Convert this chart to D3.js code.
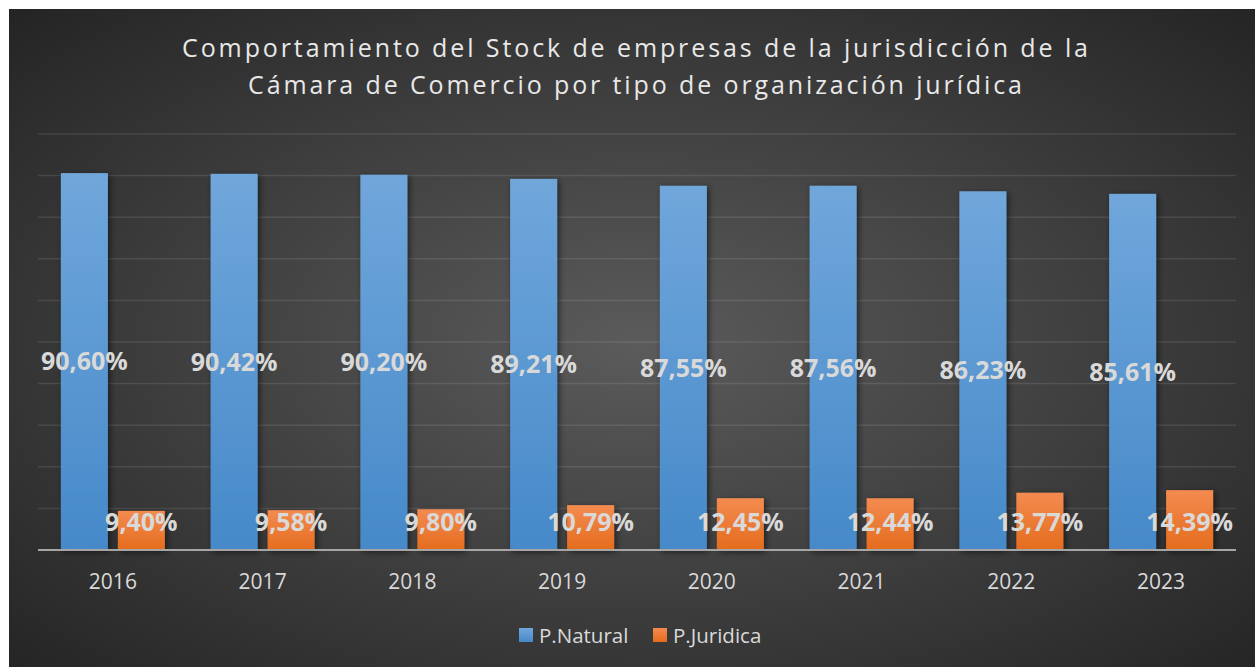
<!DOCTYPE html>
<html>
<head>
<meta charset="utf-8">
<script src="https://d3js.org/d3.v7.min.js"></script>
<style>
body { margin: 0; background: #fff; overflow: hidden; }
svg { display: block; }
text { font-family: "Open Sans", sans-serif; }
</style>
</head>
<body>
<svg id="chart" width="1255" height="667"></svg>
<script>
// data
var years = ["2016", "2017", "2018", "2019", "2020", "2021", "2022", "2023"]
var natural = [0.9060, 0.9042, 0.9020, 0.8921, 0.8755, 0.8756, 0.8623, 0.8561]
var juridica = [0.0940, 0.0958, 0.0980, 0.1079, 0.1245, 0.1244, 0.1377, 0.1439]
var seriesNames = ["P.Natural", "P.Juridica"]
var titleLines = ["Comportamiento del Stock de empresas de la jurisdicción de la",
                  "Cámara de Comercio por tipo de organización jurídica"]

var svg = d3.select("#chart")
var defs = svg.append("defs")

// background gradient
var bg = defs.append("radialGradient").attr("id", "bg")
    .attr("cx", "0.5").attr("cy", "0.5").attr("r", "0.72")
bg.append("stop").attr("offset", "0%").attr("stop-color", "#5b5b5b")
bg.append("stop").attr("offset", "100%").attr("stop-color", "#232323")

var gBlue = defs.append("linearGradient").attr("id", "gBlue")
    .attr("x1", 0).attr("y1", 0).attr("x2", 0).attr("y2", 1)
gBlue.append("stop").attr("offset", "0%").attr("stop-color", "#70a7db")
gBlue.append("stop").attr("offset", "100%").attr("stop-color", "#4689c9")

var gOrange = defs.append("linearGradient").attr("id", "gOrange")
    .attr("x1", 0).attr("y1", 0).attr("x2", 0).attr("y2", 1)
gOrange.append("stop").attr("offset", "0%").attr("stop-color", "#f38b50")
gOrange.append("stop").attr("offset", "100%").attr("stop-color", "#e56c1d")

var shadow = defs.append("filter").attr("id", "shadow")
    .attr("x", "-30%").attr("y", "-30%").attr("width", "160%").attr("height", "160%")
shadow.append("feDropShadow").attr("dx", 2).attr("dy", 2).attr("stdDeviation", 3)
    .attr("flood-color", "#000").attr("flood-opacity", 0.55)

svg.append("rect").attr("x", 9).attr("y", 9).attr("width", 1260).attr("height", 670)
    .attr("fill", "url(#bg)")

// title
svg.selectAll(".title").data(titleLines).enter().append("text")
    .attr("class", "title")
    .attr("x", 635)
    .attr("y", function(d, i) { return 57 + i * 37 })
    .attr("text-anchor", "middle")
    .attr("font-size", 25)
    .attr("fill", "#e8e8e8")
    .attr("textLength", function(d, i) { return i == 0 ? 906 : 774 })
    .attr("lengthAdjust", "spacing")
    .text(function(d) { return d })

// scales
var y = d3.scaleLinear().domain([0, 1]).range([550, 134])
var x0 = d3.scaleBand().domain(years).range([38, 1236])
    .paddingInner(0.3055).paddingOuter(0.1528)
var x1 = d3.scaleBand().domain(seriesNames).range([0, x0.bandwidth()])
    .paddingInner(0.175).paddingOuter(0)

// gridlines
svg.append("g").selectAll("line").data(d3.range(0.1, 1.01, 0.1)).enter().append("line")
    .attr("x1", 38).attr("x2", 1236)
    .attr("y1", function(d) { return y(d) }).attr("y2", function(d) { return y(d) })
    .attr("stroke", "#ffffff").attr("stroke-opacity", 0.1).attr("stroke-width", 1.5)

var rows = years.map(function(yr, i) {
    return { year: yr, vals: [natural[i], juridica[i]] }
})

var groups = svg.append("g").selectAll("g").data(rows).enter().append("g")
    .attr("transform", function(d) { return "translate(" + x0(d.year) + ",0)" })

groups.selectAll("rect").data(function(d) { return d.vals }).enter().append("rect")
    .attr("x", function(d, i) { return x1(seriesNames[i]) })
    .attr("y", function(d) { return y(d) })
    .attr("width", x1.bandwidth())
    .attr("height", function(d) { return y(0) - y(d) })
    .attr("fill", function(d, i) { return i == 0 ? "url(#gBlue)" : "url(#gOrange)" })
    .attr("filter", "url(#shadow)")

// baseline
svg.append("line").attr("x1", 38).attr("x2", 1236).attr("y1", y(0)).attr("y2", y(0))
    .attr("stroke", "#a6a6a6").attr("stroke-width", 2)

var fmt = function(v) { return (v * 100).toFixed(2).replace(".", ",") + "%" }

// value labels
groups.selectAll(".lbl").data(function(d) { return d.vals }).enter().append("text")
    .attr("class", "lbl")
    .attr("x", function(d, i) { return x1(seriesNames[i]) + x1.bandwidth() / 2 })
    .attr("y", function(d, i) { return i == 0 ? (y(d) + y(0)) / 2 : y(0) - 28 })
    .attr("dy", "0.35em")
    .attr("text-anchor", "middle")
    .attr("font-size", 25).attr("font-weight", "bold")
    .attr("fill", "#d9d9d9")
    .text(fmt)

// x axis labels
svg.append("g").selectAll("text").data(years).enter().append("text")
    .attr("x", function(d) { return x0(d) + x0.bandwidth() / 2 })
    .attr("y", 589)
    .attr("text-anchor", "middle")
    .attr("font-size", 21)
    .attr("fill", "#d9d9d9")
    .text(function(d) { return d })

// legend
var legX = [519, 653]
var leg = svg.append("g").selectAll("g").data(seriesNames).enter().append("g")
    .attr("transform", function(d, i) { return "translate(" + legX[i] + ",628)" })
leg.append("rect").attr("width", 14).attr("height", 14)
    .attr("fill", function(d, i) { return i == 0 ? "url(#gBlue)" : "url(#gOrange)" })
leg.append("text").attr("x", 20).attr("y", 14.5)
    .attr("font-size", 20.5).attr("fill", "#d9d9d9")
    .text(function(d) { return d })
</script>
</body>
</html>
